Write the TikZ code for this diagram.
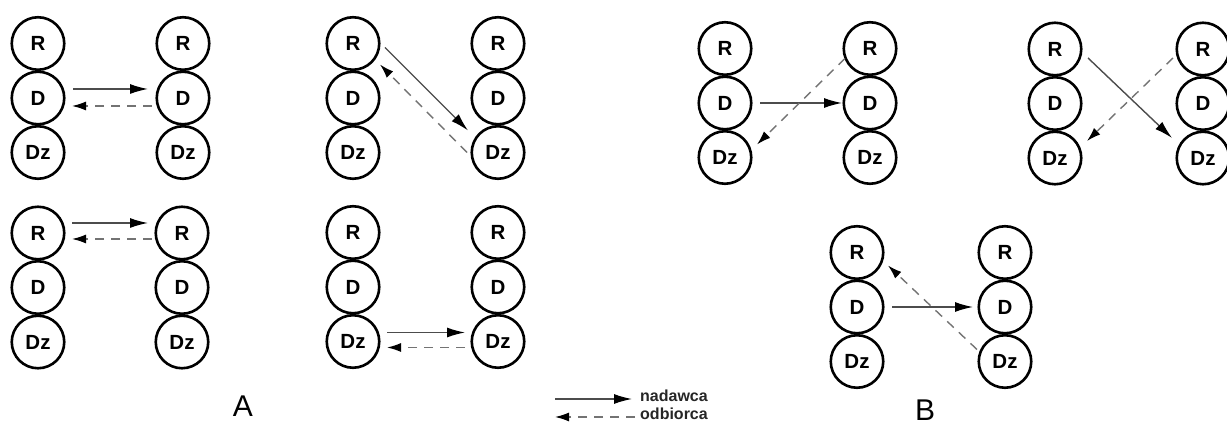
\documentclass[tikz,border=0pt]{standalone}
\usepackage{fontspec}
\setmainfont{Liberation Sans}
\usetikzlibrary{arrows.meta,calc}

% three stacked stations R, D, Dz
\newcommand\trio[3]{%
  \node[cir] (#1R) at (#2,#3) {R};
  \node[cir] (#1D) at (#2,#3+54.5) {D};
  \node[cir] (#1Z) at (#2,#3+109) {Dz};
}

\tikzset{
  cir/.style={circle, draw=black, line width=2.6pt, minimum size=52.5pt, inner sep=0pt,
    font=\fontsize{20.5}{20.5}\selectfont\bfseries},
  snd/.style={draw=black!70, line width=1.4pt,
    -{Latex[length=18pt,width=10pt,color=black]}},
  rcv/.style={draw=black!55, line width=1.4pt, dash pattern=on 9pt off 7pt,
    -{Latex[length=14pt,width=9pt,color=black]}},
  grp/.style={font=\fontsize{30}{30}\selectfont},
  leg/.style={font=\fontsize{16}{16}\selectfont\bfseries, anchor=west, inner sep=0pt, text=black!85},
}

\begin{document}
\begin{tikzpicture}[x=1pt,y=-1pt]
\useasboundingbox (0,0) rectangle (1227,427);

% ---- group A ----
\trio{aaL}{38}{43.5}
\trio{aaR}{183}{43.5}
\trio{abL}{353}{43.5}
\trio{abR}{498}{43.5}
\trio{acL}{38}{233}
\trio{acR}{182}{233}
\trio{adL}{353}{232.5}
\trio{adR}{498}{232.5}

% ---- group B ----
\trio{baL}{725}{48.5}
\trio{baR}{870}{48.5}
\trio{bbL}{1055}{49}
\trio{bbR}{1203}{49}
\trio{bcL}{857}{252.5}
\trio{bcR}{1005}{252.5}

% A: D -- D
\draw[snd] ($(aaLD.center)+(35,-9)$) -- ($(aaRD.center)+(-35,-9)$);
\draw[rcv] ($(aaRD.center)+(-31,8)$) -- ($(aaLD.center)+(34,8)$);
% A: R -- Dz
\draw[snd] ($(abLR.center)+(32,4)$) -- ($(abRZ.center)+(-30,-22)$);
\draw[rcv] ($(abRZ.center)+(-31,0)$) -- ($(abLR.center)+(27,21)$);
% A: R -- R
\draw[snd] ($(acLR.center)+(34,-10)$) -- ($(acRR.center)+(-34,-10)$);
\draw[rcv] ($(acRR.center)+(-30,6)$) -- ($(acLR.center)+(34,6)$);
% A: Dz -- Dz
\draw[snd] ($(adLZ.center)+(34,-9)$) -- ($(adRZ.center)+(-33,-9)$);
\draw[rcv] ($(adRZ.center)+(-33,6)$) -- ($(adLZ.center)+(34,6)$);

% B: D -> D, R -> Dz
\draw[snd] ($(baLD.center)+(35,0)$) -- ($(baRD.center)+(-28,0)$);
\draw[rcv] ($(baRR.center)+(-25,10)$) -- ($(baLZ.center)+(32,-13)$);
% B: R -> Dz, R -> Dz crossed
\draw[snd] ($(bbLR.center)+(33,9)$) -- ($(bbRZ.center)+(-31,-20)$);
\draw[rcv] ($(bbRR.center)+(-30,9)$) -- ($(bbLZ.center)+(32,-17)$);
% B: D -> D, Dz -> R
\draw[snd] ($(bcLD.center)+(35,0)$) -- ($(bcRD.center)+(-32,0)$);
\draw[rcv] ($(bcRZ.center)+(-28,-12)$) -- ($(bcLR.center)+(31,13)$);

% group labels
\node[grp] (labA) at (243,406) {A};
\node[grp] (labB) at (925,410) {B};

% legend
\node[leg] (nad) at (640,396) {nadawca};
\node[leg] (odb) at (640,414) {odbiorca};
\coordinate (n0) at (555,399);
\coordinate (o0) at (555,417);
\draw[snd] (n0) -- ($(n0 -| nad.west)+(-8,0)$);
\draw[rcv] ($(o0 -| odb.west)+(-5,0)$) -- (o0);
\end{tikzpicture}
\end{document}
